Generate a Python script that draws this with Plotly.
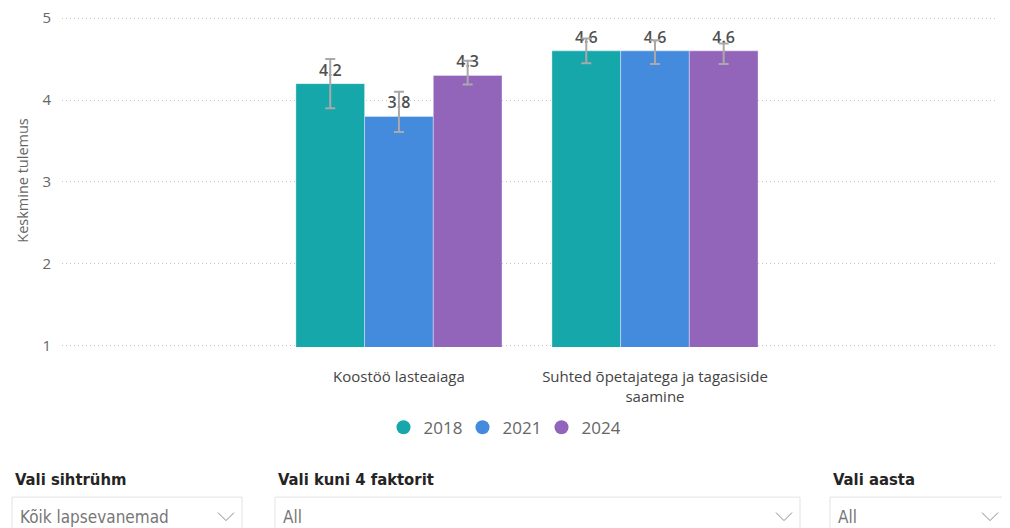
import plotly.graph_objects as go

# ---- data ----
categories = ["Koostöö lasteaiaga", "Suhted õpetajatega ja tagasiside saamine"]
category_labels = ["Koostöö lasteaiaga", "Suhted õpetajatega ja tagasiside<br>saamine"]
years = ["2018", "2021", "2024"]
values_2018 = [4.2, 4.6]
values_2021 = [3.8, 4.6]
values_2024 = [4.3, 4.6]
err_minus_2018 = [0.30, 0.15]
err_plus_2018 = [0.30, 0.15]
err_minus_2021 = [0.19, 0.16]
err_plus_2021 = [0.30, 0.13]
err_minus_2024 = [0.11, 0.16]
err_plus_2024 = [0.18, 0.09]
y_ticks = [1, 2, 3, 4, 5]

colors = ["#15A7AA", "#448BDD", "#9365BA"]
series = [
    (values_2018, err_minus_2018, err_plus_2018),
    (values_2021, err_minus_2021, err_plus_2021),
    (values_2024, err_minus_2024, err_plus_2024),
]

# page body has an 8px margin: work in window pixels and shift
OFF = 8
W, H = 1010 - OFF, 528 - OFF
Y_MIN, Y_MAX = 0.985, 5.05
PX_PER_UNIT = 82
Y1_PX = 346                                   # window pixel of value 1
PLOT_L, PLOT_R = 62, 995
PLOT_B = Y1_PX + (1 - Y_MIN) * PX_PER_UNIT
PLOT_T = Y1_PX - (Y_MAX - 1) * PX_PER_UNIT
L, T = PLOT_L - OFF, PLOT_T - OFF
R = W - (PLOT_R - OFF)
B = H - (PLOT_B - OFF)
PW, PH = PLOT_R - PLOT_L, PLOT_B - PLOT_T


def px_x(px):
    return (px - PLOT_L) / PW


def px_y(py):
    return (PLOT_B - py) / PH


FONT = "Open Sans, Noto Sans, sans-serif"
NARROW = "Liberation Sans Narrow, DejaVu Sans Condensed, Roboto, sans-serif"

fig = go.Figure()
for yr, col, (vals, em, ep) in zip(years, colors, series):
    fig.add_trace(go.Bar(
        x=categories, y=vals, name=yr, showlegend=False,
        marker=dict(color=col, line=dict(color="rgba(255,255,255,0.6)", width=0.6)),
        text=[f"{v:.1f}" for v in vals], textposition="outside",
        textfont=dict(family=FONT, size=16, color="#4F4F4F", weight=600),
        cliponaxis=False,
        error_y=dict(type="data", symmetric=False, array=ep, arrayminus=em,
                     color="#A9A9A9", thickness=2, width=5),
    ))
    # legend entry with circle symbol
    fig.add_trace(go.Scatter(
        x=[None], y=[None], mode="markers", name=yr,
        marker=dict(color=col, size=14, symbol="circle"),
    ))

fig.update_layout(
    width=W, height=H,
    margin=dict(l=L, r=R, t=T, b=B, autoexpand=False),
    paper_bgcolor="white", plot_bgcolor="white",
    barmode="group", bargap=0.195, bargroupgap=0,
    font=dict(family=FONT, color="#666666"),
    showlegend=True,
    legend=dict(orientation="h", x=px_x(502), y=px_y(428), xanchor="center", yanchor="middle",
                font=dict(family=FONT, size=17, color="#666666"),
                itemwidth=30, entrywidth=34, entrywidthmode="pixels",
                tracegroupgap=0, bgcolor="rgba(0,0,0,0)"),
    xaxis=dict(
        type="category", range=[-1.316, 2.328], showgrid=False, zeroline=False, showline=False,
        tickmode="array", tickvals=categories, ticktext=category_labels,
        ticks="outside", ticklen=16, tickcolor="rgba(0,0,0,0)",
        tickfont=dict(family=FONT, size=15, color="#444444"),
    ),
    yaxis=dict(
        range=[Y_MIN, Y_MAX], tickvals=y_ticks, showgrid=True, gridcolor="#C4C4C4",
        griddash="1px,3px", gridwidth=1, zeroline=False, showline=False, ticklabeloverflow="allow",
        ticks="outside", ticklen=7, tickcolor="rgba(0,0,0,0)",
        tickfont=dict(family=FONT, size=15, color="#666666"),
        title=dict(text="Keskmine tulemus", font=dict(family=FONT, size=14.5, color="#666666"), standoff=10),
    ),
)

# ---- slicer-like controls below the chart ----
slicers = [
    ("Vali sihtrühm", "Kõik lapsevanemad", 12, 242),
    ("Vali kuni 4 faktorit", "All", 275, 800),
    ("Vali aasta", "All", 830, 1006),
]
for header, value, x0, x1 in slicers:
    fig.add_annotation(xref="paper", yref="paper", x=px_x(x0 + 1), y=px_y(480),
                       xanchor="left", yanchor="middle", showarrow=False, text=f"<b>{header}</b>",
                       font=dict(family=NARROW, size=16.5, color="#252423"))
    fig.add_shape(type="rect", xref="paper", yref="paper",
                  x0=px_x(x0), x1=px_x(x1), y0=px_y(497.5), y1=px_y(545),
                  line=dict(color="#E3E3E3", width=1), fillcolor="rgba(0,0,0,0)")
    fig.add_annotation(xref="paper", yref="paper", x=px_x(x0 + 6), y=px_y(517),
                       xanchor="left", yanchor="middle", showarrow=False, text=value,
                       font=dict(family=NARROW, size=17, color="#777777"))
    cx0, cx1 = x1 - 24, x1 - 8
    path = (f"M {px_x(cx0)} {px_y(513)} L {px_x((cx0 + cx1) / 2)} {px_y(521)} "
            f"L {px_x(cx1)} {px_y(513)}")
    fig.add_shape(type="path", xref="paper", yref="paper", path=path,
                  line=dict(color="#8A8A8A", width=1))

fig.write_html("out.html")
